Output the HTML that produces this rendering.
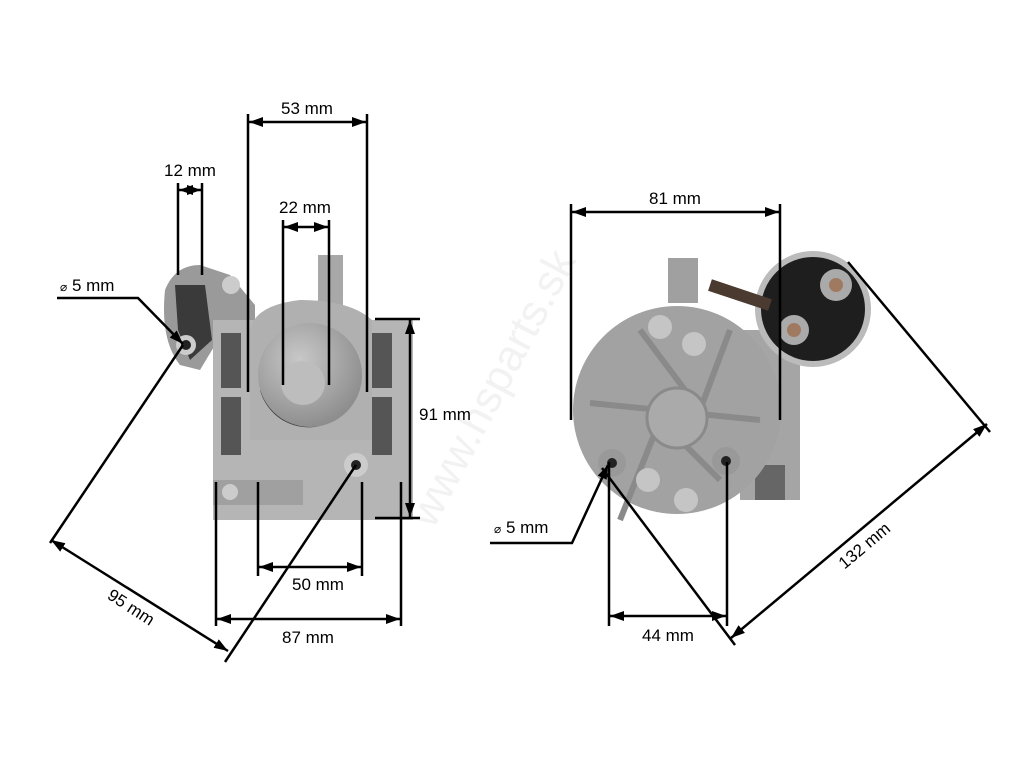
<!DOCTYPE html>
<html><head><meta charset="utf-8"><style>
html,body{margin:0;padding:0;background:#fff;}
svg{display:block;}
text{font-family:"Liberation Sans",sans-serif;font-size:17px;fill:#000;}
</style></head><body>
<svg width="1024" height="768" viewBox="0 0 1024 768" xmlns="http://www.w3.org/2000/svg">
<defs>
<marker id="a" viewBox="0 0 14 10" refX="14" refY="5" markerWidth="14" markerHeight="10" orient="auto-start-reverse" markerUnits="userSpaceOnUse"><path d="M0,0 L14,5 L0,10 z" fill="#000"/></marker>
<radialGradient id="g1" cx="40%" cy="35%" r="70%"><stop offset="0" stop-color="#c8c8c8"/><stop offset="1" stop-color="#8a8a8a"/></radialGradient>
</defs>
<text x="0" y="0" transform="translate(505,395) rotate(-62)" text-anchor="middle" style="font-size:44px;fill:#f2f2f2">www.hsparts.sk</text>

<g>
<path d="M165,290 Q175,265 200,265 L230,275 L255,305 L255,340 L215,345 L200,370 L180,365 Q160,340 165,290z" fill="#9a9a9a"/>
<path d="M175,285 L205,285 L212,340 L190,360 L178,330z" fill="#3a3a3a"/>
<rect x="318" y="255" width="25" height="60" fill="#a8a8a8"/>
<rect x="213" y="320" width="200" height="200" fill="#b5b5b5"/>
<rect x="213" y="480" width="90" height="25" fill="#a0a0a0"/>
<path d="M250,330 Q255,305 300,300 Q350,300 372,320 L372,440 L250,440z" fill="#b0b0b0"/>
<rect x="221" y="333" width="20" height="55" fill="#555"/>
<rect x="221" y="397" width="20" height="58" fill="#555"/>
<rect x="372" y="333" width="20" height="55" fill="#555"/>
<rect x="372" y="397" width="20" height="58" fill="#555"/>
<path d="M260,390 A50,50 0 0 0 350,405 Z" fill="#3d3d3d"/>
<circle cx="310" cy="375" r="52" fill="url(#g1)"/>
<circle cx="303" cy="383" r="22" fill="#bdbdbd"/>
<circle cx="186" cy="345" r="10" fill="#ccc"/><circle cx="186" cy="345" r="5" fill="#222"/>
<circle cx="356" cy="465" r="12" fill="#ccc"/><circle cx="356" cy="465" r="5" fill="#222"/>
<circle cx="230" cy="492" r="8" fill="#ccc"/>
<circle cx="231" cy="285" r="9" fill="#ccc"/>
</g>

<g>
<rect x="668" y="258" width="30" height="45" fill="#a0a0a0"/>
<rect x="740" y="330" width="60" height="170" fill="#a5a5a5"/>
<rect x="755" y="465" width="30" height="35" fill="#666"/>
<circle cx="813" cy="309" r="55" fill="#1e1e1e"/>
<circle cx="813" cy="309" r="55" fill="none" stroke="#bbb" stroke-width="6"/>
<circle cx="836" cy="285" r="16" fill="#aaa"/><circle cx="836" cy="285" r="7" fill="#a07a60"/>
<circle cx="794" cy="330" r="15" fill="#aaa"/><circle cx="794" cy="330" r="7" fill="#a07a60"/>
<path d="M710,285 L770,305" stroke="#4a3a30" stroke-width="12"/>
<circle cx="677" cy="410" r="104" fill="#a2a2a2"/>
<path d="M640,330 L700,410 L730,330 M590,403 L760,420 M620,520 L660,420 L720,480" stroke="#8a8a8a" stroke-width="6" fill="none"/>
<circle cx="677" cy="418" r="30" fill="#aaaaaa" stroke="#8a8a8a" stroke-width="3"/>
<circle cx="660" cy="327" r="12" fill="#c5c5c5"/><circle cx="694" cy="344" r="12" fill="#c5c5c5"/>
<circle cx="648" cy="480" r="12" fill="#c5c5c5"/><circle cx="686" cy="500" r="12" fill="#c5c5c5"/>
<circle cx="612" cy="463" r="14" fill="#999"/><circle cx="612" cy="463" r="5" fill="#222"/>
<circle cx="726" cy="461" r="14" fill="#999"/><circle cx="726" cy="461" r="5" fill="#222"/>
</g>

<g stroke="#000" stroke-width="2.5" fill="none">
<line x1="248" y1="114" x2="248" y2="392"/><line x1="367" y1="114" x2="367" y2="392"/>
<line x1="249" y1="122" x2="366" y2="122" marker-start="url(#a)" marker-end="url(#a)"/>
<line x1="178" y1="183" x2="178" y2="275"/><line x1="202" y1="183" x2="202" y2="275"/>
<line x1="179" y1="190" x2="201" y2="190" marker-start="url(#a)" marker-end="url(#a)"/>
<line x1="283" y1="220" x2="283" y2="385"/><line x1="329" y1="220" x2="329" y2="385"/>
<line x1="284" y1="227" x2="328" y2="227" marker-start="url(#a)" marker-end="url(#a)"/>
<polyline points="57,298 138,298 183,344" marker-end="url(#a)"/>
<line x1="375" y1="319" x2="420" y2="319"/><line x1="375" y1="518" x2="420" y2="518"/>
<line x1="410" y1="320" x2="410" y2="517" marker-start="url(#a)" marker-end="url(#a)"/>
<line x1="258" y1="482" x2="258" y2="576"/><line x1="362" y1="482" x2="362" y2="576"/>
<line x1="259" y1="567" x2="361" y2="567" marker-start="url(#a)" marker-end="url(#a)"/>
<line x1="216" y1="482" x2="216" y2="626"/><line x1="401" y1="482" x2="401" y2="626"/>
<line x1="217" y1="619" x2="400" y2="619" marker-start="url(#a)" marker-end="url(#a)"/>
<line x1="50" y1="543" x2="183" y2="345"/><line x1="225" y1="662" x2="356" y2="465"/>
<line x1="51" y1="540" x2="228" y2="651" marker-start="url(#a)" marker-end="url(#a)"/>
<line x1="571" y1="204" x2="571" y2="420"/><line x1="780" y1="204" x2="780" y2="420"/>
<line x1="572" y1="212" x2="779" y2="212" marker-start="url(#a)" marker-end="url(#a)"/>
<polyline points="490,543 572,543 608,465" marker-end="url(#a)"/>
<line x1="609" y1="462" x2="609" y2="626"/><line x1="727" y1="462" x2="727" y2="626"/>
<line x1="610" y1="616" x2="726" y2="616" marker-start="url(#a)" marker-end="url(#a)"/>
<line x1="602" y1="468" x2="735" y2="645"/><line x1="848" y1="262" x2="990" y2="432"/>
<line x1="731" y1="638" x2="987" y2="424" marker-start="url(#a)" marker-end="url(#a)"/>
</g>

<text x="307" y="114" text-anchor="middle">53 mm</text>
<text x="190" y="176" text-anchor="middle">12 mm</text>
<text x="305" y="213" text-anchor="middle">22 mm</text>
<text x="60" y="291"><tspan style="font-size:12px">⌀</tspan> 5 mm</text>
<text x="419" y="420">91 mm</text>
<text x="318" y="590" text-anchor="middle">50 mm</text>
<text x="308" y="643" text-anchor="middle">87 mm</text>
<text x="0" y="0" transform="translate(128,612) rotate(33)" text-anchor="middle">95 mm</text>
<text x="675" y="204" text-anchor="middle">81 mm</text>
<text x="494" y="533"><tspan style="font-size:12px">⌀</tspan> 5 mm</text>
<text x="668" y="641" text-anchor="middle">44 mm</text>
<text x="0" y="0" transform="translate(868,550) rotate(-40)" text-anchor="middle">132 mm</text>
</svg>
</body></html>
